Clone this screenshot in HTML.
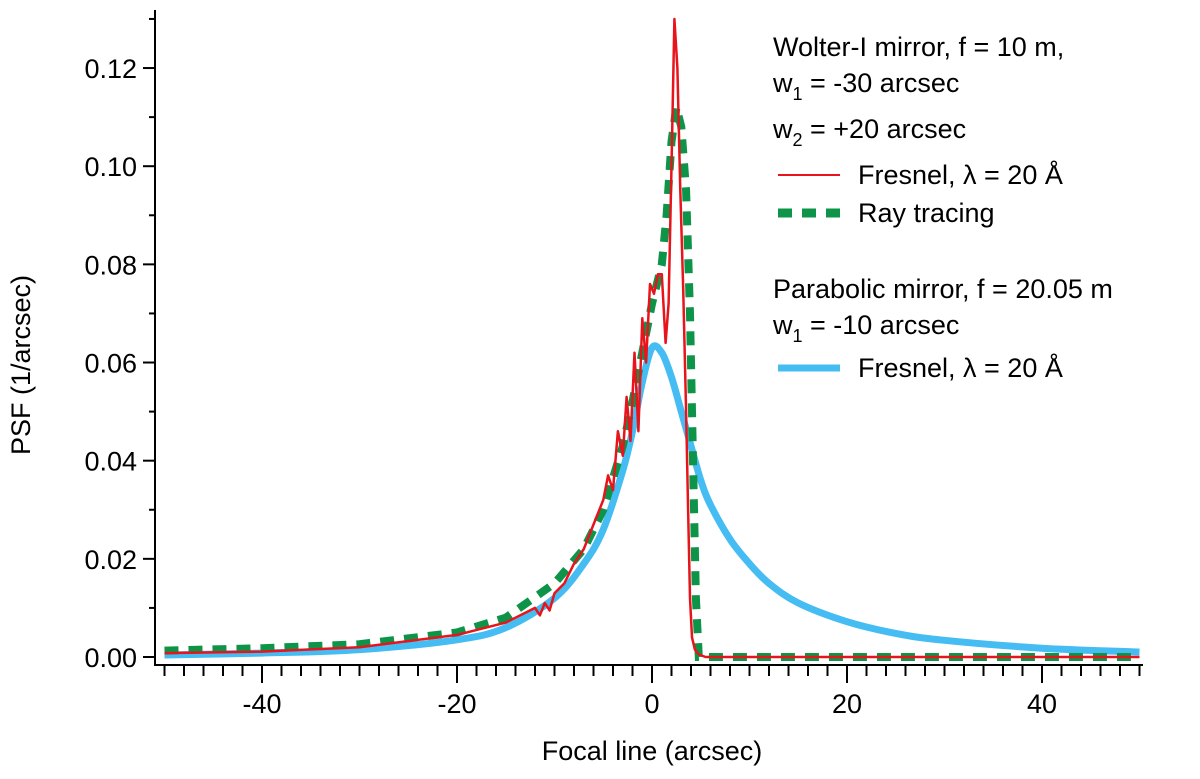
<!DOCTYPE html>
<html><head><meta charset="utf-8"><style>
body{margin:0;background:#fff}
svg text{font-family:"Liberation Sans",sans-serif;fill:#000}
</style></head><body>
<svg width="1200" height="774" xmlns="http://www.w3.org/2000/svg">
<g id="axes"></g>
<g id="series"></g>
<g font-size="27">
<text x="773" y="56">Wolter-I mirror, f = 10 m,</text>
<text x="773" y="92">w<tspan font-size="18" dy="8">1</tspan><tspan dy="-8"> = -30 arcsec</tspan></text>
<text x="773" y="138">w<tspan font-size="18" dy="8">2</tspan><tspan dy="-8"> = +20 arcsec</tspan></text>
<line x1="778" y1="175" x2="840" y2="175" stroke="#e8141c" stroke-width="2"/>
<text x="858" y="184">Fresnel, λ = 20 Å</text>
<line x1="778" y1="213" x2="840" y2="213" stroke="#0e9448" stroke-width="9" stroke-dasharray="14,10"/>
<text x="858" y="222">Ray tracing</text>
<text x="773" y="298">Parabolic mirror, f = 20.05 m</text>
<text x="773" y="334">w<tspan font-size="18" dy="8">1</tspan><tspan dy="-8"> = -10 arcsec</tspan></text>
<line x1="778" y1="368" x2="840" y2="368" stroke="#45bcf2" stroke-width="7"/>
<text x="858" y="377">Fresnel, λ = 20 Å</text>
</g>
<text x="652" y="760" font-size="27" text-anchor="middle">Focal line (arcsec)</text>
<text transform="translate(30,365) rotate(-90)" font-size="27" text-anchor="middle">PSF (1/arcsec)</text>
</svg>
<script>
const blueX=[-50,-40,-30,-20,-15,-10,-7,-5,-3,-2,-1,0,1,2,3,4,5,6,8,10,12,15,20,25,30,40,50];
const blueY=[0.0004,0.0008,0.0015,0.0035,0.006,0.012,0.019,0.026,0.038,0.046,0.056,0.063,0.062,0.057,0.05,0.043,0.036,0.031,0.024,0.019,0.015,0.011,0.0072,0.0048,0.0034,0.0018,0.001];
const greenX=[-50,-40,-30,-20,-15,-10,-7,-5,-3,-2,-1,0,1,1.5,2,2.5,3,3.5,3.9,4.2,4.5,4.8,6,50];
const greenY=[0.0013,0.0018,0.0026,0.005,0.008,0.015,0.022,0.03,0.043,0.052,0.062,0.072,0.08,0.09,0.105,0.112,0.108,0.095,0.07,0.04,0.012,0,0,0];
const redX=[-50,-40,-30,-20,-15,-12,-11.5,-11,-10.5,-10,-9,-8,-7,-6,-5,-4.5,-4,-3.5,-3,-2.6,-2.2,-1.8,-1.4,-1,-0.6,-0.2,0.2,0.6,1,1.4,1.7,2,2.3,2.6,2.9,3.2,3.5,3.7,3.9,4.1,4.4,4.8,5.5,7,50];
const redY=[0.0008,0.0011,0.002,0.0045,0.007,0.01,0.0085,0.011,0.0095,0.013,0.015,0.019,0.022,0.027,0.032,0.037,0.034,0.046,0.041,0.053,0.044,0.062,0.046,0.069,0.06,0.076,0.074,0.078,0.078,0.064,0.072,0.1,0.13,0.12,0.095,0.075,0.05,0.03,0.012,0.004,0.0015,0.0005,0,0,0];
const xTickVals=[-40,-20,0,20,40];
const yTickVals=[0,0.02,0.04,0.06,0.08,0.10,0.12];
const NS="http://www.w3.org/2000/svg";
function sx(v){return 652+9.75*v;}
function sy(v){return 657-4908*v;}
function mk(tag,attrs,parent){const e=document.createElementNS(NS,tag);for(const k in attrs)e.setAttribute(k,attrs[k]);parent.appendChild(e);return e;}
const axes=document.getElementById('axes');
let ya=mk('line',{x1:155,y1:10,x2:155,y2:666,stroke:'#000','stroke-width':2},axes);


let xa=mk('line',{x1:154,y1:665,x2:1143,y2:665,stroke:'#000','stroke-width':2},axes);


for(let v=0;v<=0.13;v+=0.01){const major=Math.round(v*100)%2===0;
 let t=mk('line',{x1:major?143:149,y1:sy(v),x2:155,y2:sy(v),stroke:'#000','stroke-width':2},axes);
 
 }
yTickVals.forEach(v=>{let t=mk('text',{x:137,y:sy(v)+10,'font-size':27,'text-anchor':'end'},axes);t.textContent=v.toFixed(2);
 
 });
for(let v=-50;v<=50;v+=2){const major=v%20===0&&v!==-50&&v!==50;
 let t=mk('line',{x1:sx(v),y1:665,x2:sx(v),y2:major?683:676,stroke:'#000','stroke-width':2},axes);
 
 }
xTickVals.forEach(v=>{let t=mk('text',{x:sx(v),y:713,'font-size':27,'text-anchor':'middle'},axes);t.textContent=String(v);
 
 });
const series=document.getElementById('series');
function path(xs,ys){return xs.map((x,i)=>(i?'L':'M')+sx(x).toFixed(1)+','+sy(ys[i]).toFixed(1)).join(' ');}
function smooth(xs,ys){const p=xs.map((x,i)=>[sx(x),sy(ys[i])]);let d='M'+p[0][0].toFixed(1)+','+p[0][1].toFixed(1);
 for(let i=0;i<p.length-1;i++){const p0=p[Math.max(0,i-1)],p1=p[i],p2=p[i+1],p3=p[Math.min(p.length-1,i+2)];
  const c1=[p1[0]+(p2[0]-p0[0])/6,p1[1]+(p2[1]-p0[1])/6],c2=[p2[0]-(p3[0]-p1[0])/6,p2[1]-(p3[1]-p1[1])/6];
  d+=' C'+c1[0].toFixed(1)+','+c1[1].toFixed(1)+' '+c2[0].toFixed(1)+','+c2[1].toFixed(1)+' '+p2[0].toFixed(1)+','+p2[1].toFixed(1);}
 return d;}
let b=mk('path',{d:smooth(blueX,blueY),fill:'none',stroke:'#45bcf2','stroke-width':7,'stroke-linejoin':'round'},series);


let g=mk('path',{d:path(greenX,greenY),fill:'none',stroke:'#0e9448','stroke-width':8,'stroke-dasharray':'14,10'},series);


let r=mk('path',{d:path(redX,redY),fill:'none',stroke:'#e8141c','stroke-width':2.5,'stroke-linejoin':'round'},series);


</script>
</body></html>
